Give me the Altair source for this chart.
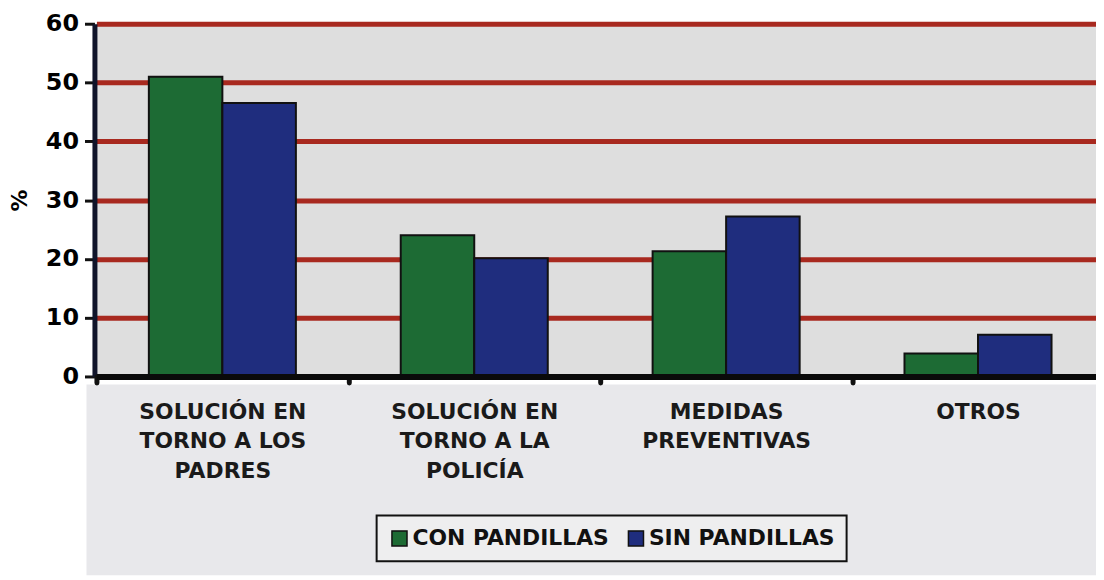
import altair as alt
import pandas as pd

categories = ["SOLUCIÓN EN|TORNO A LOS|PADRES", "SOLUCIÓN EN|TORNO A LA|POLICÍA", "MEDIDAS|PREVENTIVAS", "OTROS"]
series = ["CON PANDILLAS", "SIN PANDILLAS"]
con_pandillas = [51.0, 24.0, 21.3, 3.9]
sin_pandillas = [46.5, 20.1, 27.2, 7.1]
y_ticks = [0, 10, 20, 30, 40, 50, 60]

rows = []
for c, a, b in zip(categories, con_pandillas, sin_pandillas):
    rows.append({"cat": c, "serie": series[0], "valor": a})
    rows.append({"cat": c, "serie": series[1], "valor": b})
df = pd.DataFrame(rows)

W, H = 1008, 355
XR = 1016
FONT = "DejaVu Sans"

bg = alt.Chart(pd.DataFrame({"k": [0]})).mark_rect(color="#e8e8eb").encode(
    x=alt.value(-8), x2=alt.value(W), y=alt.value(H + 8), y2=alt.value(H + 200)
)

bars = alt.Chart(df).mark_bar(stroke="#111111", strokeWidth=2).encode(
    x=alt.X("cat:N", sort=categories,
            scale=alt.Scale(paddingInner=0, paddingOuter=0, rangeMin=2, rangeMax=XR),
            axis=alt.Axis(title=None, labelAngle=0, zindex=2,
                          labelExpr="split(datum.label, '|')",
                          labelFont=FONT, labelFontSize=22, labelFontWeight="bold",
                          labelColor="#1a1a1a", labelLineHeight=30, labelPadding=19,
                          labelOverlap=False, labelLimit=400,
                          tickBand="extent", tickSize=6, tickWidth=5, tickColor="#111111",
                          tickCap="round",
                          domainColor="#0a0a0a", domainWidth=6, grid=False)),
    xOffset=alt.XOffset("serie:N", sort=series,
                        scale=alt.Scale(paddingInner=0, paddingOuter=0.713)),
    y=alt.Y("valor:Q", scale=alt.Scale(domain=[0, 60], nice=False),
            axis=alt.Axis(title="%", values=y_ticks, titleFont=FONT, titleFontSize=22,
                          titleFontWeight="bold", titleColor="#000000", titlePadding=14,
                          labelFont=FONT, labelFontSize=24, labelFontWeight="bold",
                          labelColor="#000000", labelPadding=6,
                          tickSize=10, tickWidth=3, tickColor="#111111",
                          domainColor="#10142a", domainWidth=5,
                          grid=True, gridColor="#a8291f", gridWidth=5, gridOpacity=1)),
    color=alt.Color("serie:N", sort=series,
                    scale=alt.Scale(domain=series, range=["#1d6b34", "#1f2d7e"]),
                    legend=alt.Legend(title=None, orient="none", legendX=284, legendY=H + 140,
                                      direction="horizontal", symbolType="square",
                                      symbolSize=230, symbolStrokeColor="#111111",
                                      symbolStrokeWidth=1.5, labelLimit=400,
                                      labelFont=FONT, labelFontSize=22, labelFontWeight="bold",
                                      labelColor="#111111", columnPadding=16, labelOffset=2,
                                      strokeColor="#111111", padding=12,
                                      fillColor="#eeeeef")),
)

chart = alt.layer(bg, bars).properties(
    width=W, height=H,
    autosize=alt.AutoSizeParams(type="none"),
    padding={"left": 87, "top": 14, "right": 0, "bottom": 200},
    background="#ffffff",
).configure_view(fill="#dedede", stroke=None).configure_legend(strokeWidth=2)

chart.save("out.html", embed_options={"renderer": "svg", "actions": False})
